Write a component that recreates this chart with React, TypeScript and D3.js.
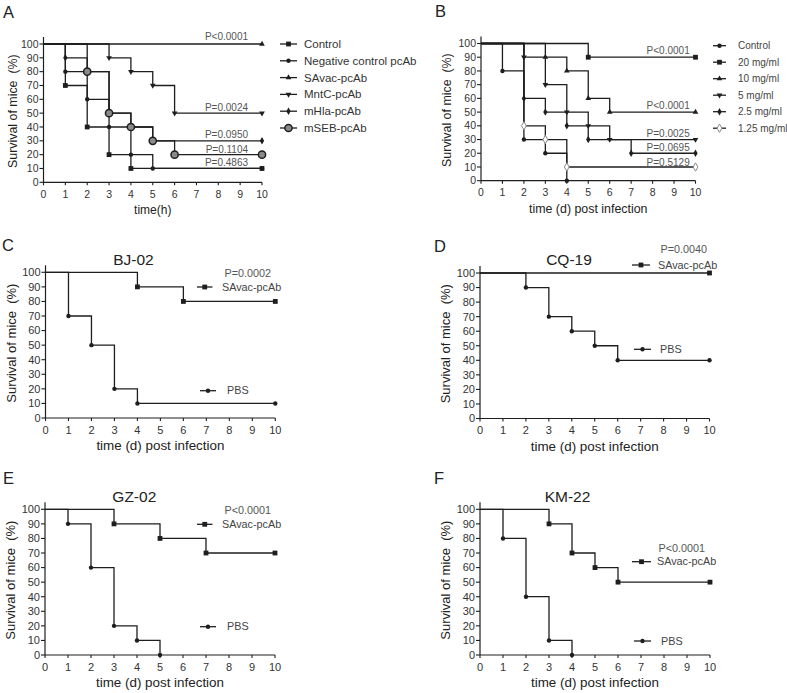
import React from 'react';
import * as d3 from 'd3';

type Pt = [number, number];

// ---------- Panel A (time in hours) ----------
const aControl: Pt[] = [[0, 100], [1, 70], [2, 40], [3, 20], [4, 10], [10, 10]];
const aNegative: Pt[] = [[0, 100], [1, 80], [2, 60], [3, 40], [4, 20], [5, 10], [10, 10]];
const aSAvac: Pt[] = [[0, 100], [10, 100]];
const aMntC: Pt[] = [[0, 100], [3, 90], [4, 80], [5, 70], [6, 50], [10, 50]];
const aHla: Pt[] = [[0, 100], [1, 90], [2, 80], [3, 50], [4, 40], [5, 30], [10, 30]];
const aSEB: Pt[] = [[0, 100], [2, 80], [3, 50], [4, 40], [5, 30], [6, 20], [10, 20]];
const aLegend = ['Control', 'Negative control pcAb', 'SAvac-pcAb', 'MntC-pcAb', 'mHla-pcAb', 'mSEB-pcAb'];
const aPValues = ['P<0.0001', 'P=0.0024', 'P=0.0950', 'P=0.1104', 'P=0.4863'];
const aPLevels = [100, 50, 30, 20, 10];

// ---------- Panel B (dose) ----------
const bControl: Pt[] = [[0, 100], [1, 80], [2, 30], [3, 20], [4, 0]];
const b20: Pt[] = [[0, 100], [5, 90], [10, 90]];
const b10: Pt[] = [[0, 100], [3, 90], [4, 80], [5, 60], [6, 50], [10, 50]];
const b5: Pt[] = [[0, 100], [2, 90], [3, 70], [4, 50], [5, 40], [6, 30], [10, 30]];
const b25: Pt[] = [[0, 100], [2, 60], [3, 50], [4, 40], [5, 30], [7, 20], [10, 20]];
const b125: Pt[] = [[0, 100], [2, 40], [3, 30], [4, 10], [10, 10]];
const bLegend = ['Control', '20 mg/ml', '10 mg/ml', '5 mg/ml', '2.5 mg/ml', '1.25 mg/ml'];
const bPValues = ['P<0.0001', 'P<0.0001', 'P=0.0025', 'P=0.0695', 'P=0.5129'];
const bPLevels = [90, 50, 30, 20, 10];

// ---------- Panels C-F (strains) ----------
const cSAvac: Pt[] = [[0, 100], [4, 90], [6, 80], [10, 80]];
const cPBS: Pt[] = [[0, 100], [1, 70], [2, 50], [3, 20], [4, 10], [10, 10]];
const dSAvac: Pt[] = [[0, 100], [10, 100]];
const dPBS: Pt[] = [[0, 100], [2, 90], [3, 70], [4, 60], [5, 50], [6, 40], [10, 40]];
const eSAvac: Pt[] = [[0, 100], [3, 90], [5, 80], [7, 70], [10, 70]];
const ePBS: Pt[] = [[0, 100], [1, 90], [2, 60], [3, 20], [4, 10], [5, 0]];
const fSAvac: Pt[] = [[0, 100], [3, 90], [4, 70], [5, 60], [6, 50], [10, 50]];
const fPBS: Pt[] = [[0, 100], [1, 80], [2, 40], [3, 10], [4, 0]];
const strainTitles = ['BJ-02', 'CQ-19', 'GZ-02', 'KM-22'];
const strainPValues = ['P=0.0002', 'P=0.0040', 'P<0.0001', 'P<0.0001'];
const strainLegend = ['SAvac-pcAb', 'PBS'];

const xTicks = d3.range(0, 11);
const yTicks = d3.range(0, 101, 10);

const FONT = "'Liberation Sans', Arial, Helvetica, sans-serif";
const INK = '#1e1e1e';

type MarkerKind = 'square' | 'circle' | 'triUp' | 'triDown' | 'diamond' | 'bigCircle' | 'openDiamond';

function Marker({ kind, x, y }: { kind: MarkerKind; x: number; y: number }) {
  const t = `translate(${x},${y})`;
  switch (kind) {
    case 'square':
      return <rect x={x - 2.4} y={y - 2.4} width={4.8} height={4.8} fill={INK} />;
    case 'circle':
      return <circle cx={x} cy={y} r={2.2} fill={INK} />;
    case 'triUp':
      return <path transform={t} d={d3.symbol(d3.symbolTriangle, 14)() || ''} fill={INK} />;
    case 'triDown':
      return <path transform={`${t} rotate(180)`} d={d3.symbol(d3.symbolTriangle, 14)() || ''} fill={INK} />;
    case 'diamond':
      return <path transform={t} d={d3.symbol(d3.symbolDiamond, 16)() || ''} fill={INK} />;
    case 'bigCircle':
      return <circle cx={x} cy={y} r={3.6} fill="#8a8a8a" stroke={INK} strokeWidth={1.5} />;
    case 'openDiamond':
      return <path transform={t} d={d3.symbol(d3.symbolDiamond, 20)() || ''} fill="#fff" stroke="#8a8a8a" strokeWidth={1} />;
  }
  return null;
}

interface Series { data: Pt[]; marker: MarkerKind }

interface PanelProps {
  left: number; right: number; bottom: number; top: number;
  series: Series[];
  tickSize: number;
  xTitle: string; xTitleSize: number;
  yTitleX: number; yTitleSize: number;
  children?: (x: d3.ScaleLinear<number, number>, y: d3.ScaleLinear<number, number>) => React.ReactNode;
}

function Panel(p: PanelProps) {
  const x = d3.scaleLinear().domain([0, 10]).range([p.left, p.right]);
  const y = d3.scaleLinear().domain([0, 100]).range([p.bottom, p.top]);
  const line = d3.line<Pt>().x(d => x(d[0])).y(d => y(d[1])).curve(d3.curveStepAfter);
  const axisTop = p.top - 7;
  return (
    <g>
      {/* axes */}
      <line x1={p.left} x2={p.left} y1={p.bottom} y2={axisTop} stroke={INK} strokeWidth={1.2} />
      <line x1={p.left} x2={p.right} y1={p.bottom} y2={p.bottom} stroke={INK} strokeWidth={1.2} />
      {yTicks.map(t => (
        <g key={'y' + t}>
          <line x1={p.left - 4} x2={p.left} y1={y(t)} y2={y(t)} stroke={INK} strokeWidth={1.1} />
          <text x={p.left - 5} y={y(t)} dy="0.35em" textAnchor="end" fontSize={p.tickSize} fill="#333">{t}</text>
        </g>
      ))}
      {xTicks.map(t => (
        <g key={'x' + t}>
          <line x1={x(t)} x2={x(t)} y1={p.bottom} y2={p.bottom + 3} stroke={INK} strokeWidth={1.1} />
          <text x={x(t)} y={p.bottom + 15.5} textAnchor="middle" fontSize={p.tickSize} fill="#333">{t}</text>
        </g>
      ))}
      <text x={(p.left + p.right) / 2} y={p.bottom + 32} textAnchor="middle" fontSize={p.xTitleSize} fill="#222">{p.xTitle}</text>
      <text transform={`translate(${p.yTitleX},${(p.top + p.bottom) / 2 - 2}) rotate(-90)`} textAnchor="middle"
        dominantBaseline="central" fontSize={p.yTitleSize} fill="#222" style={{ whiteSpace: 'pre' }}>
        {'Survival of mice  (%)'}
      </text>
      {/* survival curves */}
      {p.series.map((s, i) => (
        <g key={'s' + i}>
          <path d={line(s.data) || ''} fill="none" stroke={INK} strokeWidth={1.3} />
          {s.data.slice(1).map((d, j) => <Marker key={j} kind={s.marker} x={x(d[0])} y={y(d[1])} />)}
        </g>
      ))}
      {p.children ? p.children(x, y) : null}
    </g>
  );
}

function LegendItem({ x1, x2, y, kind, label, tx, size, color }:
  { x1: number; x2: number; y: number; kind: MarkerKind; label: string; tx: number; size: number; color: string }) {
  return (
    <g>
      <line x1={x1} x2={x2} y1={y} y2={y} stroke={INK} strokeWidth={1.3} />
      <Marker kind={kind} x={(x1 + x2) / 2} y={y} />
      <text x={tx} y={y} dy="0.35em" fontSize={size} fill={color}>{label}</text>
    </g>
  );
}

export default function App() {
  const aMarkers: MarkerKind[] = ['square', 'circle', 'triUp', 'triDown', 'diamond', 'bigCircle'];
  const bMarkers: MarkerKind[] = ['circle', 'square', 'triUp', 'triDown', 'diamond', 'openDiamond'];
  const aOffsets = [4.3, 2.5, 2.7, 1.8, 2];
  const bOffsets = [3.2, 3.6, 2.4, 2, 1.4];
  return (
    <svg width={787} height={693} viewBox="0 0 787 693"
      style={{ position: 'absolute', left: 0, top: 0, background: '#fff', fontFamily: FONT }}>
      <rect width={787} height={693} fill="#fff" />
      {/* panel letters */}
      {[['A', 3, 18], ['B', 435, 17], ['C', 2, 251], ['D', 434, 252], ['E', 3, 484], ['F', 434, 484]].map(([l, lx, ly]) => (
        <text key={l as string} x={lx as number} y={ly as number} fontSize={16.5} fill="#222">{l}</text>
      ))}

      {/* A */}
      <Panel left={43.5} right={262} bottom={182.3} top={44}
        series={[aControl, aNegative, aSAvac, aMntC, aHla, aSEB].map((d, i) => ({ data: d, marker: aMarkers[i] }))}
        tickSize={10.5} xTitle="time(h)" xTitleSize={12} yTitleX={12.7} yTitleSize={12.4}>
        {(x, y) => aPValues.map((t, i) => (
          <text key={t + i} x={x(9.36)} y={y(aPLevels[i]) - aOffsets[i]} textAnchor="end" fontSize={10} fill="#555">{t}</text>
        ))}
      </Panel>
      {aLegend.map((l, i) => (
        <LegendItem key={l} x1={280} x2={297} y={44 + i * 16.8} kind={aMarkers[i]} label={l} tx={304} size={11.5} color="#333" />
      ))}

      {/* B */}
      <Panel left={481} right={695.5} bottom={180.7} top={43.5}
        series={[bControl, b20, b10, b5, b25, b125].map((d, i) => ({ data: d, marker: bMarkers[i] }))}
        tickSize={10.5} xTitle="time (d) post infection" xTitleSize={12.4} yTitleX={447.3} yTitleSize={12.4}>
        {(x, y) => bPValues.map((t, i) => (
          <text key={t + i} x={x(9.73)} y={y(bPLevels[i]) - bOffsets[i]} textAnchor="end" fontSize={10} fill="#555">{t}</text>
        ))}
      </Panel>
      {bLegend.map((l, i) => (
        <LegendItem key={l} x1={713} x2={726} y={45.7 + i * 16.5} kind={bMarkers[i]} label={l} tx={738} size={10} color="#444" />
      ))}

      {/* C */}
      <Panel left={45.5} right={275.3} bottom={418} top={272.3}
        series={[{ data: cSAvac, marker: 'square' }, { data: cPBS, marker: 'circle' }]}
        tickSize={11} xTitle="time (d) post infection" xTitleSize={13.4} yTitleX={11} yTitleSize={13}>
        {() => null}
      </Panel>
      <text x={133.5} y={265} textAnchor="middle" fontSize={15.5} fill="#222">{strainTitles[0]}</text>
      <text x={271} y={276.8} textAnchor="end" fontSize={10.8} fill="#555">{strainPValues[0]}</text>
      <LegendItem x1={197} x2={212.5} y={287} kind="square" label={strainLegend[0]} tx={222} size={10.8} color="#444" />
      <LegendItem x1={200} x2={216} y={390.7} kind="circle" label={strainLegend[1]} tx={227} size={10.8} color="#444" />

      {/* D */}
      <Panel left={480} right={709.5} bottom={418.5} top={273}
        series={[{ data: dSAvac, marker: 'square' }, { data: dPBS, marker: 'circle' }]}
        tickSize={11} xTitle="time (d) post infection" xTitleSize={13.4} yTitleX={445} yTitleSize={13}>
        {() => null}
      </Panel>
      <text x={569} y={265} textAnchor="middle" fontSize={15.5} fill="#222">{strainTitles[1]}</text>
      <text x={707} y={252.8} textAnchor="end" fontSize={10.8} fill="#555">{strainPValues[1]}</text>
      <LegendItem x1={632} x2={650} y={265} kind="square" label={strainLegend[0]} tx={658} size={10.8} color="#444" />
      <LegendItem x1={634} x2={651} y={349.3} kind="circle" label={strainLegend[1]} tx={660} size={10.8} color="#444" />

      {/* E */}
      <Panel left={45} right={275} bottom={655} top={509.3}
        series={[{ data: eSAvac, marker: 'square' }, { data: ePBS, marker: 'circle' }]}
        tickSize={11} xTitle="time (d) post infection" xTitleSize={13.4} yTitleX={10.5} yTitleSize={13}>
        {() => null}
      </Panel>
      <text x={134.3} y={502} textAnchor="middle" fontSize={15.5} fill="#222">{strainTitles[2]}</text>
      <text x={271} y={514} textAnchor="end" fontSize={10.8} fill="#555">{strainPValues[2]}</text>
      <LegendItem x1={197} x2={212.5} y={524.3} kind="square" label={strainLegend[0]} tx={222} size={10.8} color="#444" />
      <LegendItem x1={200} x2={216} y={626.7} kind="circle" label={strainLegend[1]} tx={227} size={10.8} color="#444" />

      {/* F */}
      <Panel left={480} right={710} bottom={655} top={509.3}
        series={[{ data: fSAvac, marker: 'square' }, { data: fPBS, marker: 'circle' }]}
        tickSize={11} xTitle="time (d) post infection" xTitleSize={13.4} yTitleX={445} yTitleSize={13}>
        {() => null}
      </Panel>
      <text x={567.5} y={502} textAnchor="middle" fontSize={15.5} fill="#222">{strainTitles[3]}</text>
      <text x={705} y={551.5} textAnchor="end" fontSize={10.8} fill="#555">{strainPValues[3]}</text>
      <LegendItem x1={632} x2={651} y={561.7} kind="square" label={strainLegend[0]} tx={657} size={10.8} color="#444" />
      <LegendItem x1={634} x2={651} y={641} kind="circle" label={strainLegend[1]} tx={661} size={10.8} color="#444" />
    </svg>
  );
}
